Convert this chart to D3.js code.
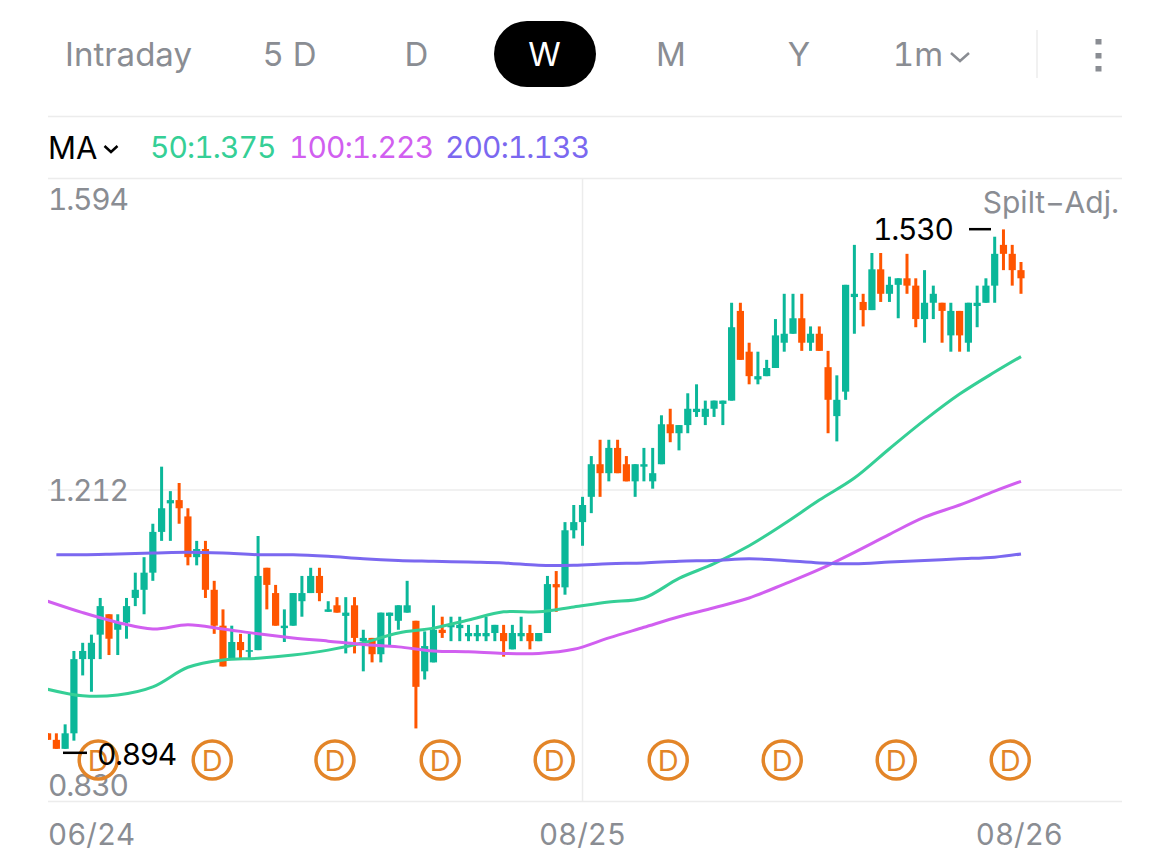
<!DOCTYPE html>
<html>
<head>
	<meta charset="utf-8">
	<title>Weekly K-line</title>
	<script src="https://cdn.jsdelivr.net/npm/d3@7"></script>
	<style>
		html, body { margin: 0; padding: 0; background: #fff; }
		svg { display: block; }
		text { font-family: Inter, "Noto Sans", sans-serif; font-feature-settings: "tnum" 1; font-variant-numeric: tabular-nums; }
	</style>
</head>
<body>
	<div id="chart"></div>

	<script type="text/javascript">
		// weekly candles
		const highs = [0.913,0.913,0.924,1.014,1.024,1.034,1.079,1.059,1.059,1.079,1.110,1.129,1.170,1.240,1.210,1.220,1.189,1.149,1.149,1.100,1.065,1.045,1.035,1.035,1.155,1.116,1.095,1.065,1.085,1.106,1.116,1.116,1.075,1.080,1.080,1.080,1.040,1.030,1.061,1.061,1.070,1.100,1.051,1.038,1.070,1.056,1.056,1.056,1.046,1.046,1.056,1.046,1.046,1.046,1.056,1.046,1.036,1.106,1.112,1.172,1.193,1.203,1.253,1.273,1.273,1.273,1.253,1.243,1.263,1.263,1.303,1.311,1.291,1.330,1.341,1.321,1.321,1.321,1.441,1.441,1.392,1.381,1.371,1.421,1.452,1.452,1.452,1.412,1.412,1.382,1.352,1.463,1.512,1.452,1.502,1.502,1.473,1.471,1.501,1.471,1.481,1.462,1.441,1.441,1.431,1.441,1.462,1.471,1.522,1.531,1.512,1.491];
		const opens = [0.913,0.905,0.894,0.913,1.004,1.004,1.034,1.059,1.040,1.049,1.079,1.089,1.110,1.160,1.195,1.199,1.179,1.129,1.139,1.089,1.045,1.005,1.025,1.013,1.015,1.116,1.085,1.042,1.045,1.075,1.085,1.106,1.062,1.070,1.057,1.070,1.026,1.030,1.010,1.057,1.051,1.061,1.051,0.989,1.000,1.040,1.043,1.042,1.032,1.032,1.032,1.036,1.036,1.016,1.032,1.036,1.026,1.036,1.096,1.092,1.162,1.172,1.203,1.243,1.232,1.263,1.243,1.222,1.240,1.222,1.243,1.292,1.281,1.291,1.307,1.301,1.311,1.317,1.321,1.431,1.381,1.347,1.351,1.361,1.392,1.403,1.422,1.392,1.403,1.362,1.302,1.332,1.448,1.442,1.432,1.482,1.452,1.463,1.471,1.462,1.421,1.441,1.441,1.401,1.431,1.392,1.437,1.441,1.462,1.512,1.501,1.481];
		const closes = [0.905,0.894,0.913,1.004,1.014,1.024,1.069,1.029,1.049,1.069,1.089,1.110,1.160,1.189,1.199,1.189,1.129,1.139,1.089,1.045,0.995,1.025,1.015,1.015,1.106,1.095,1.045,1.045,1.085,1.085,1.106,1.085,1.065,1.061,1.061,1.030,1.030,1.010,1.061,1.061,1.070,1.070,0.970,1.020,1.040,1.036,1.046,1.046,1.036,1.036,1.036,1.046,1.026,1.036,1.036,1.026,1.036,1.096,1.092,1.162,1.172,1.193,1.243,1.232,1.263,1.232,1.222,1.243,1.243,1.232,1.292,1.281,1.291,1.311,1.311,1.311,1.321,1.321,1.411,1.371,1.351,1.351,1.361,1.401,1.403,1.422,1.392,1.403,1.382,1.322,1.322,1.463,1.452,1.432,1.482,1.452,1.463,1.471,1.462,1.421,1.441,1.452,1.431,1.431,1.401,1.441,1.441,1.462,1.501,1.501,1.481,1.471];
		const lows = [0.905,0.894,0.894,0.904,0.984,0.964,1.004,1.009,1.009,1.029,1.069,1.059,1.100,1.149,1.149,1.170,1.119,1.119,1.079,1.035,0.995,1.005,1.005,1.005,1.015,1.065,1.045,1.025,1.045,1.056,1.085,1.075,1.062,1.061,1.011,1.011,0.989,1.000,1.000,1.020,1.040,1.061,0.919,0.979,1.000,1.030,1.026,1.026,1.026,1.026,1.026,1.026,1.007,1.016,1.026,1.016,1.026,1.036,1.062,1.083,1.152,1.143,1.183,1.203,1.222,1.232,1.222,1.203,1.222,1.213,1.243,1.270,1.260,1.281,1.301,1.291,1.301,1.291,1.321,1.371,1.341,1.341,1.351,1.361,1.381,1.403,1.382,1.382,1.382,1.281,1.271,1.322,1.403,1.412,1.432,1.442,1.442,1.422,1.452,1.411,1.392,1.421,1.392,1.381,1.381,1.381,1.411,1.441,1.441,1.481,1.462,1.452];

		// moving averages, read every fourth candle
		const maIndex = [0,4,8,12,16,20,24,28,32,36,40,44,48,52,56,60,64,68,72,76,80,84,88,92,96,100,104,108,111];
		const ma50 = [0.967,0.959,0.960,0.970,0.994,1.003,1.005,1.009,1.015,1.024,1.036,1.042,1.052,1.062,1.062,1.068,1.074,1.079,1.103,1.121,1.143,1.170,1.199,1.226,1.262,1.297,1.329,1.356,1.375];
		const ma100 = [1.075,1.061,1.049,1.041,1.046,1.041,1.035,1.030,1.026,1.022,1.019,1.014,1.013,1.011,1.011,1.016,1.030,1.043,1.056,1.067,1.079,1.096,1.114,1.135,1.157,1.178,1.193,1.210,1.222];
		const ma200Index = [1,4,8,12,16,20,24,28,32,36,40,44,48,52,56,60,64,68,72,76,80,84,88,92,96,100,104,108,111];
		const ma200 = [1.132,1.132,1.133,1.134,1.135,1.134,1.132,1.132,1.130,1.127,1.125,1.124,1.123,1.122,1.119,1.119,1.121,1.122,1.124,1.125,1.127,1.125,1.122,1.121,1.123,1.125,1.127,1.129,1.133];

		const yTicks = [1.594,1.212,0.830];
		const dateIndex = [0,61,111];
		const dateLabels = ["06/24","08/25","08/26"];
		const dividendIndex = [6,19,33,45,58,71,84,97,110];
		const periods = ["Intraday","5 D","D","W","M","Y","1m"];
		const periodCenters = [128.5,289.5,416.5,544.5,671,799,918];
		const maLabels = ["50:1.375","100:1.223","200:1.133"];
		const maLabelStarts = [150,289,445];
		const maColors = ["#35cf96","#d15ff0","#7b68f0"];

		const up = "#0bb799", down = "#ff5500", gray = "#8a8d93", rule = "#ececec";
		const width = 1170, height = 854;

		let svg = d3.select("#chart").append("svg").attr("width", width).attr("height", height);
		let x = d3.scaleLinear().domain([0,111]).range([47.6,1021]);
		let y = d3.scaleLinear().domain([0.830,1.594]).range([801,178]);

		// top bar
		svg.append("rect").attr("x",494).attr("y",21).attr("width",102).attr("height",66).attr("rx",33).attr("fill","#000");
		svg.selectAll(".period").data(periods).join("text")
			.attr("class","period")
			.attr("x",(d,i)=>periodCenters[i])
			.attr("y",66)
			.attr("text-anchor","middle")
			.attr("font-size",33)
			.attr("fill",d=>d=="W"?"#fff":gray)
			.text(d=>d);
		svg.append("path").attr("d","M951 53l9 8l9 -8").attr("fill","none").attr("stroke",gray).attr("stroke-width",2.5);
		svg.append("line").attr("x1",1037).attr("x2",1037).attr("y1",30).attr("y2",78).attr("stroke",rule).attr("stroke-width",1.5);
		svg.selectAll(".dot").data([39,53,66]).join("rect")
			.attr("class","dot").attr("x",1095.5).attr("y",d=>d).attr("width",6).attr("height",5.5).attr("fill",gray);

		// MA legend row
		svg.append("line").attr("x1",48).attr("x2",1122).attr("y1",116.5).attr("y2",116.5).attr("stroke",rule).attr("stroke-width",1.5);
		svg.append("text").attr("x",48).attr("y",159).attr("font-size",31).attr("fill","#000").text("MA");
		svg.append("path").attr("d","M104.500 146l6.500 6l6.500 -6").attr("fill","none").attr("stroke","#000").attr("stroke-width",2.5);
		svg.selectAll(".malabel").data(maLabels).join("text")
			.attr("class","malabel")
			.attr("x",(d,i)=>maLabelStarts[i])
			.attr("y",158)
			.attr("font-size",30)
			.attr("letter-spacing",-0.9)
			.attr("fill",(d,i)=>maColors[i])
			.text(d=>d);

		// grid + y labels
		let yAxis = d3.axisRight(y).tickValues(yTicks).tickSize(1074).tickFormat(d3.format(".3f"));
		let gy = svg.append("g").attr("transform","translate(48,0)").call(yAxis);
		gy.select(".domain").remove();
		gy.selectAll("line").attr("stroke",rule).attr("stroke-width",1.5);
		gy.selectAll("text")
			.attr("x",0)
			.attr("dy",d=>d==1.594?31:(d==1.212?11:-6))
			.attr("font-size",30)
			.attr("letter-spacing",-1.2)
			.attr("font-family","Inter")
			.attr("fill",gray);

		svg.append("line").attr("x1",x(61)).attr("x2",x(61)).attr("y1",178).attr("y2",801).attr("stroke",rule).attr("stroke-width",1.5);

		svg.selectAll(".datelabel").data(dateLabels).join("text")
			.attr("class","datelabel")
			.attr("x",(d,i)=>i==0?48:x(dateIndex[i])+(i==2?42:0))
			.attr("y",845)
			.attr("text-anchor",(d,i)=>i==0?"start":(i==1?"middle":"end"))
			.attr("font-size",29.500)
			.attr("fill",gray)
			.text(d=>d);

		svg.append("text").attr("x",1119).attr("y",213).attr("text-anchor","end").attr("font-size",30).attr("fill",gray).text("Spilt\u2212Adj.");

		svg.append("clipPath").attr("id","plot").append("rect").attr("x",48).attr("y",178).attr("width",1074).attr("height",623);

		// dividend markers
		let div = svg.selectAll(".div").data(dividendIndex).join("g").attr("class","div")
			.attr("transform",d=>"translate("+(x(d)-2)+",760)");
		div.append("circle").attr("r",19).attr("fill","#fff").attr("fill-opacity",0).attr("stroke","#e38528").attr("stroke-width",3.5);
		div.append("text").attr("text-anchor","middle").attr("y",10.500).attr("font-size",29).attr("fill","#e38528").text("D");

		// candles
		let candles = svg.append("g").attr("clip-path","url(#plot)");
		let color = i=>closes[i]>=opens[i]?up:down;
		candles.selectAll(".wick").data(highs).join("line")
			.attr("class","wick")
			.attr("x1",(d,i)=>x(i)).attr("x2",(d,i)=>x(i))
			.attr("y1",d=>y(d))
			.attr("y2",(d,i)=>y(lows[i]))
			.attr("stroke",(d,i)=>color(i))
			.attr("stroke-width",3);
		candles.selectAll(".body").data(opens).join("rect")
			.attr("class","body")
			.attr("x",(d,i)=>x(i)-3.6)
			.attr("width",7.2)
			.attr("y",(d,i)=>y(Math.max(d,closes[i])))
			.attr("height",(d,i)=>Math.abs(y(d)-y(closes[i])))
			.attr("fill",(d,i)=>color(i));

		// moving average lines
		[[maIndex,ma50],[maIndex,ma100],[ma200Index,ma200]].forEach(function(s,k){
			let line = d3.line().x((d,i)=>x(s[0][i])).y(d=>y(d)).curve(d3.curveCatmullRom);
			svg.append("path").attr("clip-path","url(#plot)").attr("d",line(s[1]))
				.attr("fill","none").attr("stroke",maColors[k]).attr("stroke-width",3);
		});

		// high / low labels
		svg.append("text").attr("x",873).attr("y",240).attr("font-size",30).attr("letter-spacing",-1.2).attr("fill","#000").text("1.530");
		svg.append("line").attr("x1",969).attr("x2",991).attr("y1",y(1.530)-1).attr("y2",y(1.530)-1).attr("stroke","#000").attr("stroke-width",2.5);
		svg.append("text").attr("x",97).attr("y",765).attr("font-size",30).attr("letter-spacing",-1.4).attr("fill","#000").text("0.894");
		svg.append("line").attr("x1",63).attr("x2",87).attr("y1",y(0.894)+4).attr("y2",y(0.894)+4).attr("stroke","#000").attr("stroke-width",2.5);
	</script>
</body>
</html>
